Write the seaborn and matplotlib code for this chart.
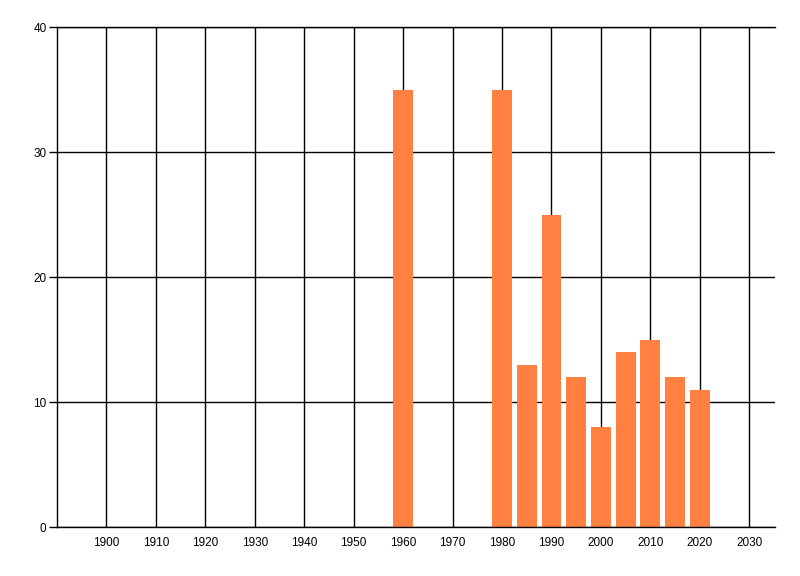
import matplotlib
matplotlib.use("Agg")
import matplotlib.pyplot as plt
import seaborn as sns
import pandas as pd

years = [1960, 1980, 1985, 1990, 1995, 2000, 2005, 2010, 2015, 2020]
values = [35, 35, 13, 25, 12, 8, 14, 15, 12, 11]
x_ticks = [1900, 1910, 1920, 1930, 1940, 1950, 1960, 1970, 1980, 1990, 2000, 2010, 2020, 2030]
y_ticks = [0, 10, 20, 30, 40]

df = pd.DataFrame({"year": years, "value": values})

sns.set_style("white")
plt.rcParams['font.family'] = ['Liberation Sans', 'DejaVu Sans']

fig = plt.figure(figsize=(8, 5.76), dpi=100)
ax = fig.add_axes([0.07125, 0.085, 0.8975, 0.868])

sns.barplot(data=df, x="year", y="value", native_scale=True, width=0.8,
            color="#FF8040", saturation=1, ax=ax, linewidth=0, edgecolor="none")

ax.set_xlim(1890, 2035.2)
ax.set_ylim(0, 40)
ax.set_xticks(x_ticks)
ax.set_xticklabels([str(t) for t in x_ticks])
ax.set_yticks(y_ticks)
ax.set_axisbelow(True)
ax.grid(True, color="black", linewidth=1)
ax.set_xlabel("")
ax.set_ylabel("")

for s in ["left", "bottom", "top"]:
    ax.spines[s].set_visible(True)
    ax.spines[s].set_color("black")
    ax.spines[s].set_linewidth(1)
ax.spines["right"].set_visible(False)

ax.tick_params(axis="x", length=0, pad=7, labelsize=8.5, colors="black")
ax.tick_params(axis="y", left=True, length=6, width=1, pad=1.5, labelsize=8.5, colors="black")

fig.savefig("out.png", dpi=100)
